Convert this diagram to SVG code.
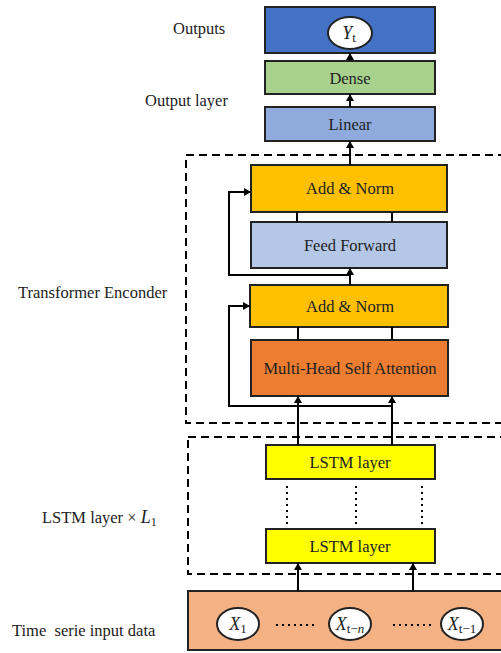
<svg xmlns="http://www.w3.org/2000/svg" width="501" height="653" viewBox="0 0 501 653">
<defs>
<marker id="ah" markerWidth="7" markerHeight="8" refX="7" refY="4" orient="auto" markerUnits="userSpaceOnUse">
<path d="M0,0 L7,4 L0,8 z" fill="#000"/>
</marker>
<style>
.box{stroke:#222;stroke-width:2}
.t{font-family:"Liberation Serif","Times New Roman",serif;font-size:16.5px;fill:#222;text-anchor:middle}
.lbl{font-family:"Liberation Serif","Times New Roman",serif;font-size:16.5px;fill:#222}
.m{font-family:"Liberation Serif","Times New Roman",serif;font-style:italic;font-size:18px;fill:#222;text-anchor:middle}
.sub{font-style:normal;font-size:13px}
.dash{fill:none;stroke:#000;stroke-width:2;stroke-dasharray:8 5}
.c{fill:none;stroke:#000;stroke-width:2}
.dot{fill:none;stroke:#000;stroke-width:2;stroke-dasharray:2 4}
.el{fill:#fff;stroke:#222;stroke-width:2}
</style>
</defs>
<rect width="501" height="653" fill="#fff"/>

<g id="labels">
<text class="lbl" x="173" y="34">Outputs</text>
<text class="lbl" x="145" y="106">Output layer</text>
<text class="lbl" x="18" y="298">Transformer Enconder</text>
<text class="lbl" x="42" y="523">LSTM layer × <tspan font-style="italic" font-size="18">L</tspan><tspan font-size="12" dy="3">1</tspan></text>
<text class="lbl" x="12" y="636" xml:space="preserve">Time  serie input data</text>
</g>

<g id="groups">
<rect class="dash" x="186" y="155" width="330" height="268"/>
<rect class="dash" x="188" y="437" width="330" height="137"/>
</g>

<g id="input">
<rect class="box" x="188" y="591" width="330" height="59" fill="#F4B183"/>
<ellipse class="el" cx="238" cy="624" rx="21" ry="16"/>
<text class="m" x="238" y="630">X<tspan class="sub" dy="3">1</tspan></text>
<ellipse class="el" cx="350" cy="624" rx="21" ry="16"/>
<text class="m" x="350" y="630">X<tspan class="sub" dy="3">t−<tspan font-style="italic">n</tspan></tspan></text>
<ellipse class="el" cx="462" cy="624" rx="21" ry="16"/>
<text class="m" x="462" y="630">X<tspan class="sub" dy="3">t−1</tspan></text>
<path class="dot" d="M276,625 H316 M393,625 H433"/>
</g>

<g id="lstm2">
<rect class="box" x="266" y="529" width="169" height="34" fill="#FFFF00"/>
<text class="t" x="350" y="552">LSTM layer</text>
</g>
<g id="lstm1">
<rect class="box" x="266" y="445" width="169" height="34" fill="#FFFF00"/>
<text class="t" x="350" y="468">LSTM layer</text>
</g>

<g id="mhsa">
<rect class="box" x="251" y="340" width="197" height="56" fill="#ED7D31"/>
<text class="t" x="350" y="374">Multi-Head Self Attention</text>
</g>
<g id="addnorm2">
<rect class="box" x="250" y="285" width="198" height="42" fill="#FFC000"/>
<text class="t" x="350" y="312">Add &amp; Norm</text>
</g>
<g id="ff">
<rect class="box" x="251" y="222" width="196" height="46" fill="#B4C7E7"/>
<text class="t" x="350" y="251">Feed Forward</text>
</g>
<g id="addnorm1">
<rect class="box" x="251" y="165" width="196" height="47" fill="#FFC000"/>
<text class="t" x="350" y="194">Add &amp; Norm</text>
</g>

<g id="linear">
<rect class="box" x="265" y="107" width="170" height="34" fill="#8FAADC"/>
<text class="t" x="350" y="130">Linear</text>
</g>
<g id="dense">
<rect class="box" x="265" y="61" width="170" height="33" fill="#A9D18E"/>
<text class="t" x="350" y="84">Dense</text>
</g>
<g id="outputs">
<rect class="box" x="265" y="7" width="170" height="46" fill="#4472C4"/>
<ellipse class="el" cx="350" cy="33" rx="22" ry="16"/>
<text class="m" x="349" y="39">Y<tspan class="sub" dy="3">t</tspan></text>
</g>

<g id="connectors">
<path class="c" d="M298,591 V563" marker-end="url(#ah)"/>
<path class="c" d="M413,591 V563" marker-end="url(#ah)"/>
<path class="dot" d="M287,486 V526 M356,486 V526 M422,486 V526"/>
<path class="c" d="M298,445 V396" marker-end="url(#ah)"/>
<path class="c" d="M392,445 V396" marker-end="url(#ah)"/>
<path class="c" d="M392,406 H229 V306 H250" marker-end="url(#ah)"/>
<path class="c" d="M298,327 V340 M392,327 V340"/>
<path class="c" d="M350,285 V268" marker-end="url(#ah)"/>
<path class="c" d="M350,275 H229 V192 H251" marker-end="url(#ah)"/>
<path class="c" d="M297,212 V222 M392,212 V222"/>
<path class="c" d="M350,165 V141" marker-end="url(#ah)"/>
<path class="c" d="M350,107 V94" marker-end="url(#ah)"/>
<path class="c" d="M350,61 V53" marker-end="url(#ah)"/>
</g>
</svg>
